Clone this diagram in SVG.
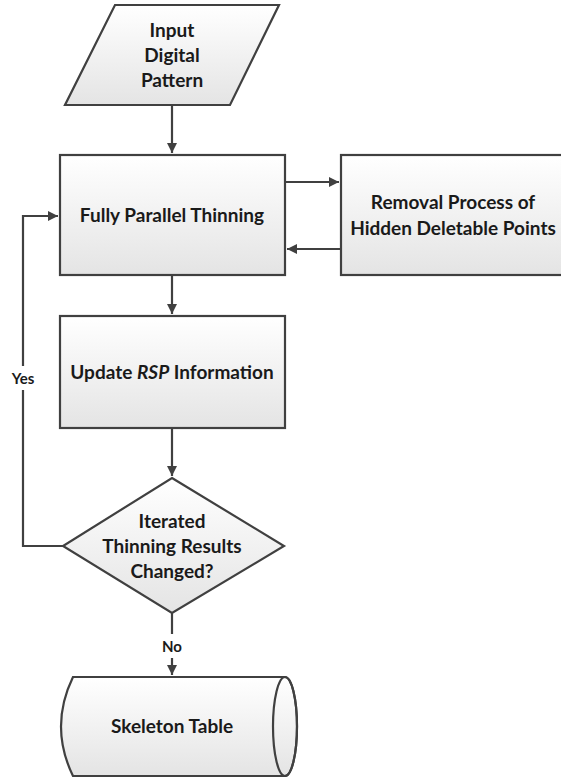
<svg xmlns="http://www.w3.org/2000/svg" width="561" height="779" viewBox="0 0 561 779">
<defs>
<linearGradient id="g" x1="0" y1="0" x2="0" y2="1">
<stop offset="0" stop-color="#ffffff"/>
<stop offset="1" stop-color="#e4e4e4"/>
</linearGradient>
<marker id="ah" viewBox="0 0 10 10" refX="10" refY="5" markerWidth="10" markerHeight="10" markerUnits="userSpaceOnUse" orient="auto">
<path d="M0,0 L10,5 L0,10 z" fill="#404040"/>
</marker>
<style>
.s{fill:url(#g);stroke:#404040;stroke-width:2.2}
.c{fill:none;stroke:#404040;stroke-width:2.2}
.t{font-family:Lato,"Open Sans",sans-serif;font-weight:bold;font-size:19px;fill:#1a1a1a;text-anchor:middle}
.l{font-size:15px}
</style>
</defs>
<rect width="561" height="779" fill="#fff"/>
<g id="connectors">
<path class="c" d="M172,105 V153" marker-end="url(#ah)"/>
<path class="c" d="M285,182 H339" marker-end="url(#ah)"/>
<path class="c" d="M341,249 H287" marker-end="url(#ah)"/>
<path class="c" d="M172,275 V314" marker-end="url(#ah)"/>
<path class="c" d="M172,428 V476" marker-end="url(#ah)"/>
<path class="c" d="M63,546 H23 V390"/>
<path class="c" d="M23,366 V216 H58" marker-end="url(#ah)"/>
<path class="c" d="M172,613 V634"/>
<path class="c" d="M172,658 V675" marker-end="url(#ah)"/>
<text class="t l" x="23" y="384">Yes</text>
<text class="t l" x="172" y="652">No</text>
</g>
<g id="input">
<path class="s" d="M115,5 H279 L230,105 H65 Z"/>
<text class="t" x="172" y="37">Input</text>
<text class="t" x="172" y="62">Digital</text>
<text class="t" x="172" y="87">Pattern</text>
</g>
<g id="thinning">
<rect class="s" x="60" y="155" width="225" height="120"/>
<text class="t" x="172" y="222">Fully Parallel Thinning</text>
</g>
<g id="removal">
<rect class="s" x="341" y="155" width="226" height="120"/>
<text class="t" x="453" y="209">Removal Process of</text>
<text class="t" x="453" y="235">Hidden Deletable Points</text>
</g>
<g id="update">
<rect class="s" x="60" y="316" width="225" height="112"/>
<text class="t" x="172" y="379">Update <tspan font-style="italic">RSP</tspan> Information</text>
</g>
<g id="decision">
<path class="s" d="M172,478 L284,546 L172,613 L63,546 Z"/>
<text class="t" x="172" y="528">Iterated</text>
<text class="t" x="172" y="553">Thinning Results</text>
<text class="t" x="172" y="578">Changed?</text>
</g>
<g id="skeleton">
<path class="s" d="M73,677 H285 A12,49.5 0 0 1 285,776 H73 Q49,726.5 73,677 Z"/>
<ellipse class="c" cx="285" cy="726.5" rx="12" ry="49.5"/>
<text class="t" x="172" y="733">Skeleton Table</text>
</g>
</svg>
